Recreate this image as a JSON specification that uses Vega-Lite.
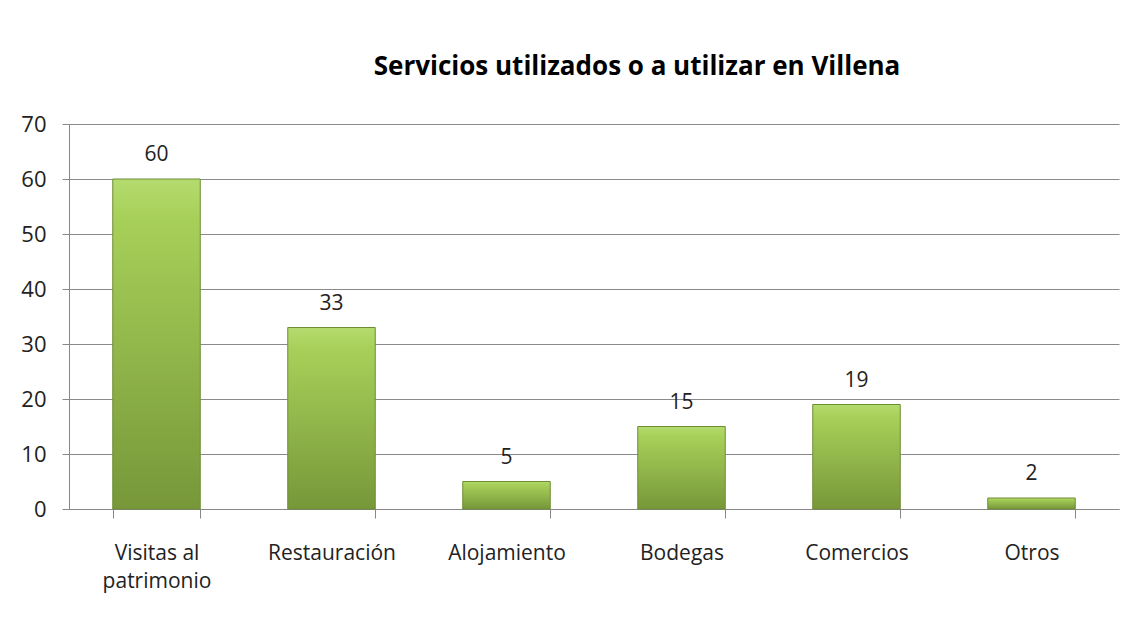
{
  "$schema": "https://vega.github.io/schema/vega-lite/v6.json",
  "width": 1050,
  "height": 385,
  "autosize": "none",
  "padding": {"left": 69, "top": 124, "right": 11, "bottom": 119},
  "background": "white",
  "title": {
    "text": "Servicios utilizados o a utilizar en Villena",
    "font": "Open Sans",
    "fontSize": 26,
    "fontWeight": "bold",
    "color": "#000000",
    "anchor": "middle",
    "dx": 43,
    "offset": 33
  },
  "config": {
    "view": {"stroke": null},
    "font": "Open Sans"
  },
  "data": {
    "values": [
      {"servicio": "Visitas al patrimonio", "valor": 60},
      {"servicio": "Restauración", "valor": 33},
      {"servicio": "Alojamiento", "valor": 5},
      {"servicio": "Bodegas", "valor": 15},
      {"servicio": "Comercios", "valor": 19},
      {"servicio": "Otros", "valor": 2}
    ]
  },
  "encoding": {
    "x": {
      "field": "servicio",
      "type": "nominal",
      "sort": null,
      "scale": {"paddingInner": 0.5, "paddingOuter": 0.25},
      "axis": {
        "title": null,
        "labelAngle": 0,
        "labelFontSize": 21,
        "labelColor": "#222222",
        "labelPadding": 24,
        "labelLineHeight": 28,
        "labelExpr": "datum.label == 'Visitas al patrimonio' ? ['Visitas al', 'patrimonio'] : datum.label",
        "domainColor": "#888888",
        "tickColor": "#888888",
        "tickBand": "extent",
        "tickSize": 9,
        "grid": false
      }
    },
    "y": {
      "field": "valor",
      "type": "quantitative",
      "scale": {"domain": [0, 70]},
      "axis": {
        "title": null,
        "values": [0, 10, 20, 30, 40, 50, 60, 70],
        "labelFontSize": 22,
        "labelColor": "#222222",
        "labelPadding": 16,
        "tickSize": 7,
        "tickColor": "#888888",
        "domainColor": "#888888",
        "gridColor": "#8a8a8a",
        "gridOpacity": 1
      }
    }
  },
  "layer": [
    {
      "mark": {
        "type": "bar",
        "stroke": "#6f8c35",
        "strokeWidth": 1,
        "color": {
          "gradient": "linear",
          "x1": 0, "y1": 0, "x2": 0, "y2": 1,
          "stops": [
            {"offset": 0, "color": "#b4db6e"},
            {"offset": 0.12, "color": "#a7d059"},
            {"offset": 1, "color": "#779739"}
          ]
        }
      }
    },
    {
      "mark": {
        "type": "text",
        "baseline": "bottom",
        "dy": -14,
        "fontSize": 21,
        "color": "#222222"
      },
      "encoding": {"text": {"field": "valor", "type": "quantitative"}}
    }
  ]
}
